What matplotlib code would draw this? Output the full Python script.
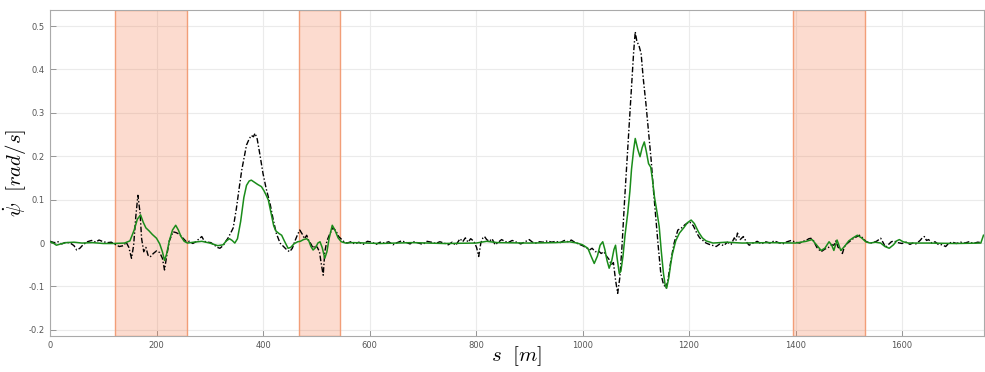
import matplotlib
matplotlib.use("Agg")
import matplotlib.pyplot as plt
import numpy as np

# yaw rate reference (black, dash-dot)
s_ref = [0, 8, 15, 22, 30, 38, 45, 50, 56, 62, 70, 78, 86, 92, 100, 108, 115, 122, 130, 138,
         143, 148, 153, 157, 161, 165, 169, 172, 176, 180, 184, 188, 194, 200, 206, 211, 215, 219, 224, 231,
         237, 243, 249, 256, 262, 268, 274, 280, 285, 290, 296, 302, 308, 314, 319, 325, 330, 334, 340, 344,
         350, 355, 360, 365, 369, 374, 378, 382, 385, 389, 394, 400, 406, 413, 419, 425, 432, 440, 445, 450,
         455, 460, 465, 469, 474, 478, 482, 486, 490, 494, 498, 502, 506, 509, 513, 516, 520, 525, 531, 537,
         542, 548, 553, 558, 565, 572, 580, 588, 596, 605, 612, 620, 628, 636, 644, 652, 660, 668, 676, 684,
         692, 700, 708, 716, 724, 732, 740, 748, 755, 762, 770, 775, 780, 785, 790, 796, 801, 805, 809, 813,
         816, 820, 825, 830, 836, 842, 848, 854, 860, 868, 876, 884, 892, 900, 906, 912, 919, 926, 934, 942,
         950, 958, 966, 973, 979, 985, 992, 1000, 1006, 1013, 1018, 1024, 1030, 1035, 1040, 1045, 1050, 1054, 1058, 1062,
         1066, 1070, 1074, 1079, 1084, 1088, 1092, 1096, 1099, 1102, 1106, 1110, 1114, 1119, 1124, 1129, 1133, 1138, 1142, 1147,
         1152, 1157, 1161, 1166, 1172, 1179, 1186, 1193, 1201, 1208, 1215, 1220, 1225, 1232, 1240, 1246, 1251, 1258, 1265, 1272,
         1279, 1285, 1288, 1291, 1296, 1302, 1308, 1313, 1320, 1328, 1336, 1344, 1352, 1360, 1368, 1376, 1384, 1392, 1400, 1408,
         1414, 1420, 1425, 1429, 1434, 1440, 1448, 1455, 1462, 1468, 1472, 1476, 1480, 1484, 1488, 1492, 1496, 1502, 1508, 1514,
         1520, 1526, 1532, 1539, 1545, 1552, 1560, 1565, 1569, 1574, 1580, 1585, 1592, 1600, 1608, 1615, 1620, 1626, 1634, 1638,
         1642, 1646, 1650, 1656, 1662, 1668, 1675, 1682, 1688, 1695, 1702, 1710, 1718, 1726, 1734, 1742, 1750]
psi_ref = [0.004, 0.001, 0.003, -0.002, 0.002, 0.000, -0.006, -0.016, -0.012, -0.004, 0.003, 0.006, 0.002, 0.007, 0.003, 0.001, 0.002, -0.003, -0.008, -0.006,
           0.002, -0.010, -0.035, -0.005, 0.060, 0.110, 0.070, 0.010, -0.020, -0.010, -0.028, -0.032, -0.024, -0.018, -0.022, -0.035, -0.062, -0.030, 0.005, 0.026,
           0.024, 0.020, 0.012, 0.003, 0.004, -0.001, 0.003, 0.010, 0.015, 0.004, 0.002, 0.001, -0.004, -0.010, -0.012, -0.006, 0.004, 0.011, 0.025, 0.035,
           0.080, 0.125, 0.168, 0.200, 0.226, 0.240, 0.248, 0.245, 0.253, 0.240, 0.205, 0.160, 0.125, 0.092, 0.055, 0.022, 0.000, -0.010, -0.016, -0.020,
           -0.012, 0.005, 0.020, 0.030, 0.020, 0.010, 0.018, 0.005, -0.002, -0.012, -0.005, -0.010, -0.020, -0.045, -0.074, -0.020, 0.005, 0.020, 0.035, 0.028,
           0.015, 0.008, 0.002, 0.000, 0.003, -0.002, 0.002, -0.003, 0.004, 0.002, -0.003, 0.002, 0.000, 0.003, -0.004, 0.001, 0.005, 0.002, -0.002, 0.003,
           0.000, -0.003, 0.004, 0.002, -0.001, 0.003, 0.000, -0.004, 0.002, -0.005, 0.010, 0.003, 0.012, 0.002, 0.010, 0.004, -0.010, -0.031, 0.000, 0.012,
           0.015, 0.008, 0.004, 0.010, -0.004, 0.002, 0.008, 0.004, 0.001, 0.006, 0.002, -0.002, 0.003, 0.008, 0.002, 0.000, 0.003, 0.002, 0.005, 0.002,
           0.004, 0.001, 0.006, 0.003, 0.007, 0.002, -0.002, -0.006, -0.010, -0.016, -0.012, -0.020, -0.018, -0.024, -0.020, -0.030, -0.038, -0.050, -0.045, -0.085,
           -0.116, -0.080, -0.010, 0.099, 0.200, 0.283, 0.360, 0.440, 0.487, 0.465, 0.455, 0.437, 0.380, 0.322, 0.255, 0.190, 0.125, 0.053, -0.005, -0.070,
           -0.095, -0.104, -0.080, -0.040, 0.000, 0.030, 0.035, 0.043, 0.049, 0.040, 0.022, 0.012, 0.007, 0.000, -0.004, -0.006, -0.008, -0.002, -0.006, 0.002,
           -0.003, 0.012, 0.005, 0.023, 0.008, 0.015, 0.002, -0.005, 0.000, 0.004, -0.002, 0.003, 0.000, 0.005, 0.001, -0.002, 0.003, 0.006, 0.002, 0.000,
           0.004, 0.006, 0.010, 0.011, 0.005, -0.010, -0.020, -0.014, -0.010, -0.004, -0.005, 0.005, -0.010, -0.012, -0.024, -0.008, -0.002, 0.004, 0.010, 0.014,
           0.018, 0.012, 0.004, 0.000, 0.001, 0.004, 0.011, 0.000, -0.010, -0.004, 0.003, 0.005, 0.001, -0.001, 0.002, -0.003, 0.000, -0.002, 0.006, 0.012,
           0.015, 0.006, 0.008, 0.000, 0.003, -0.003, -0.004, -0.008, 0.000, 0.002, -0.001, 0.002, 0.000, 0.003, -0.001, 0.002, 0.001]

# estimated yaw rate (green)
s_est = [0, 6, 12, 20, 30, 45, 60, 80, 100, 120, 140, 150, 158, 164, 170, 175, 180, 186, 192, 200,
         206, 211, 215, 219, 224, 230, 236, 241, 246, 252, 258, 270, 285, 300, 315, 325, 331, 337, 342, 347,
         352, 358, 364, 369, 374, 378, 384, 390, 397, 402, 406, 410, 415, 420, 424, 430, 435, 440, 447, 452,
         458, 465, 470, 476, 482, 486, 490, 494, 499, 503, 507, 511, 516, 520, 524, 530, 535, 541, 547, 555,
         570, 620, 680, 740, 800, 820, 840, 900, 950, 975, 990, 1000, 1010, 1016, 1022, 1028, 1033, 1038, 1042, 1046,
         1050, 1055, 1059, 1062, 1065, 1069, 1072, 1076, 1080, 1085, 1089, 1092, 1096, 1099, 1104, 1108, 1112, 1116, 1120, 1124,
         1128, 1131, 1135, 1140, 1144, 1148, 1152, 1155, 1158, 1162, 1166, 1169, 1175, 1182, 1190, 1197, 1204, 1210, 1218, 1225,
         1232, 1245, 1270, 1300, 1350, 1400, 1420, 1431, 1440, 1448, 1455, 1463, 1468, 1472, 1478, 1485, 1492, 1500, 1508, 1516,
         1524, 1532, 1540, 1550, 1560, 1568, 1576, 1584, 1590, 1595, 1602, 1612, 1650, 1700, 1748, 1753]
psi_est = [0.003, 0.000, -0.005, -0.002, 0.001, 0.002, 0.000, 0.001, -0.001, -0.001, 0.000, 0.005, 0.030, 0.055, 0.065, 0.048, 0.035, 0.028, 0.020, 0.011,
           -0.002, -0.020, -0.040, -0.025, 0.005, 0.030, 0.041, 0.030, 0.015, 0.004, 0.000, 0.002, 0.004, 0.000, -0.006, -0.004, 0.005, 0.010, 0.006, 0.000,
           0.010, 0.050, 0.105, 0.133, 0.143, 0.145, 0.140, 0.135, 0.130, 0.120, 0.110, 0.099, 0.070, 0.040, 0.028, 0.022, 0.018, 0.005, -0.012, -0.010,
           -0.002, 0.003, 0.004, 0.008, 0.010, 0.005, -0.008, -0.016, -0.010, 0.000, 0.003, -0.010, -0.035, -0.020, 0.010, 0.041, 0.030, 0.012, 0.003, 0.000,
           0.001, -0.001, 0.001, -0.001, 0.000, 0.004, 0.001, 0.000, 0.001, 0.003, 0.000, -0.004, -0.012, -0.030, -0.047, -0.030, -0.005, 0.003, -0.015, -0.040,
           -0.058, -0.040, -0.015, -0.005, -0.035, -0.070, -0.065, -0.030, 0.020, 0.070, 0.120, 0.170, 0.215, 0.241, 0.215, 0.199, 0.220, 0.233, 0.210, 0.183,
           0.175, 0.150, 0.107, 0.070, 0.038, -0.020, -0.070, -0.095, -0.104, -0.080, -0.045, -0.024, 0.005, 0.023, 0.035, 0.047, 0.053, 0.045, 0.025, 0.012,
           0.005, 0.000, 0.002, 0.000, 0.001, 0.000, 0.004, 0.008, -0.005, -0.017, -0.012, 0.003, -0.005, -0.017, 0.007, -0.017, -0.008, 0.005, 0.012, 0.018,
           0.012, 0.003, 0.000, 0.002, 0.000, -0.008, -0.012, -0.004, 0.005, 0.008, 0.003, 0.000, 0.000, -0.001, 0.000, 0.018]

# highlighted stretches of road
span_start = [122, 467, 1396]
span_end = [257, 544, 1531]

x_ticks = [0, 200, 400, 600, 800, 1000, 1200, 1400, 1600]
y_ticks = [-0.2, -0.1, 0, 0.1, 0.2, 0.3, 0.4, 0.5]
y_labels = ["-0.2", "-0.1", "0", "0.1", "0.2", "0.3", "0.4", "0.5"]

plt.rcParams["mathtext.fontset"] = "cm"

fig = plt.figure(figsize=(9.85, 3.72), dpi=100)
ax = fig.add_axes([0.0508, 0.097, 0.9482, 0.876])

for a, b in zip(span_start, span_end):
	ax.axvspan(a, b, facecolor=(0.96, 0.45, 0.25, 0.25),
		edgecolor=(0.95, 0.62, 0.47), linewidth=1.0, zorder=1)

ax.plot(s_ref, psi_ref, color="black", linestyle=(0, (4, 1.5, 1, 1.5)), linewidth=1.0, zorder=3)
ax.plot(s_est, psi_est, color=(0.1, 0.55, 0.1), linewidth=1.1, zorder=4)

ax.set_xlim(0, 1754)
ax.set_ylim(-0.214, 0.537)
ax.set_xticks(x_ticks)
ax.set_yticks(y_ticks)
ax.set_yticklabels(y_labels)
ax.grid(True, color="#ebebeb", linewidth=0.8, zorder=0)
ax.set_axisbelow(True)
ax.tick_params(direction="in", length=4, width=0.6, colors="#888888",
	labelsize=6, labelcolor="#555555", pad=4)
for sp in ax.spines.values():
	sp.set_color("#aaaaaa")
	sp.set_linewidth(0.8)

ax.set_xlabel(r"$s\ \ [m]$", fontsize=15)
ax.set_ylabel(r"$\dot{\psi}\ \ [rad/s]$", fontsize=15)
ax.xaxis.set_label_coords(0.5, -0.025)
ax.yaxis.set_label_coords(-0.022, 0.5)

plt.savefig("out.png", dpi=100)
